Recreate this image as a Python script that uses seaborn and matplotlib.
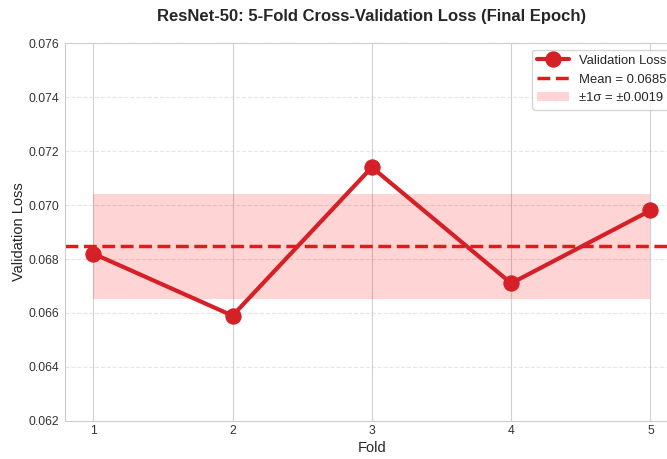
import numpy as np
import pandas as pd
import seaborn as sns
import matplotlib.pyplot as plt

folds = [1, 2, 3, 4, 5]
val_loss = [0.0682, 0.0659, 0.0714, 0.0671, 0.0698]

df = pd.DataFrame({"Fold": folds, "Validation Loss": val_loss})
mean_loss = np.mean(val_loss)
std_loss = np.std(val_loss)

sns.set_style("whitegrid")
plt.rcParams["font.family"] = ["Liberation Sans", "DejaVu Sans"]

fig = plt.figure(figsize=(6.67, 4.59), dpi=100)
ax = fig.add_axes([0.098, 0.083, 0.919, 0.823])

line_red = "#d42026"
ax.fill_between([1, 5], mean_loss - std_loss, mean_loss + std_loss,
                color="red", alpha=0.17, linewidth=0,
                label=f"±1σ = ±{std_loss:.4f}")
ax.axhline(mean_loss, color="#e31a1c", linestyle="--", linewidth=2.5,
           label=f"Mean = {mean_loss:.4f}")
sns.lineplot(data=df, x="Fold", y="Validation Loss", ax=ax, color=line_red,
             linewidth=3, marker="o", markersize=11, markeredgecolor=line_red,
             label="Validation Loss", zorder=3)

ax.set_xlim(0.8, 5.2)
ax.set_ylim(0.062, 0.076)
ax.set_xticks(folds)
ax.set_yticks(np.arange(0.062, 0.0761, 0.002))
ax.yaxis.set_major_formatter(plt.FormatStrFormatter("%.3f"))
ax.grid(axis="y", linestyle="--", alpha=0.5)
ax.grid(axis="x", linestyle="-", alpha=0.9)
ax.tick_params(labelsize=8.7, colors="#333333", pad=1)
ax.tick_params(axis="x", pad=-0.5)
for s in ax.spines.values():
    s.set_color("#cccccc")

ax.set_xlabel("Fold", fontsize=10.5, labelpad=2.5)
ax.set_ylabel("Validation Loss", fontsize=10.5, labelpad=2)
ax.set_title("ResNet-50: 5-Fold Cross-Validation Loss (Final Epoch)",
             fontsize=12, fontweight="bold", pad=16)

handles, labels = ax.get_legend_handles_labels()
order = [labels.index("Validation Loss"), 1, 0]
ax.legend([handles[i] for i in order], [labels[i] for i in order],
          loc="upper right", fontsize=9.4, handlelength=2.4, frameon=True)

fig.savefig("out.png", dpi=100)
